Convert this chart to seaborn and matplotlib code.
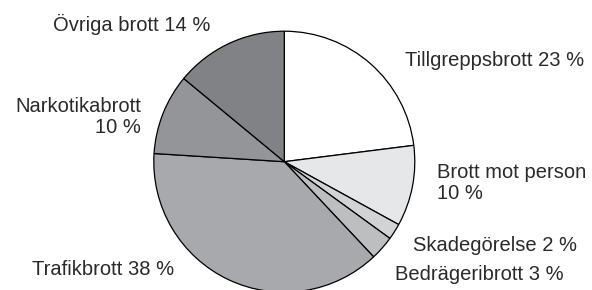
import matplotlib.pyplot as plt
import seaborn as sns

# Data
categories = ["Tillgreppsbrott", "Brott mot person", "Skadegörelse",
              "Bedrägeribrott", "Trafikbrott", "Narkotikabrott", "Övriga brott"]
shares = [23, 10, 2, 3, 38, 10, 14]
label_texts = ["Tillgreppsbrott 23 %", "Brott mot person\n10 %", "Skadegörelse 2 %",
               "Bedrägeribrott 3 %", "Trafikbrott 38 %", "Narkotikabrott\n10 %",
               "Övriga brott 14 %"]

colors = ["#ffffff", "#e6e7e8", "#d1d3d4", "#bcbec0", "#a7a9ac", "#939598", "#808285"]

# Label layout in pixel units (x, baseline y of last line, relative to pie centre)
label_pos = [(121, 95.7), (153, -37.6), (128.5, -89.3), (111, -118.3),
             (-110.5, -113.3), (-143, 28.7), (-73.5, 130.7)]
label_ha = ["left", "left", "left", "left", "right", "right", "right"]

sns.set_style("white")
plt.rcParams["font.family"] = ["Liberation Sans", "DejaVu Sans"]

fig = plt.figure(figsize=(5.92, 2.90), dpi=100)
ax = fig.add_axes([0, 0, 1, 1])

cx, cy = 284.3, 128.3
radius = 130.5
ax.pie(shares, colors=colors, startangle=90, counterclock=False, radius=radius,
       wedgeprops=dict(edgecolor="black", linewidth=0.9))

ax.set_xlim(-cx, 592 - cx)
ax.set_ylim(-cy, 290 - cy)
ax.set_aspect("equal")
ax.axis("off")

for text, (x, y), ha in zip(label_texts, label_pos, label_ha):
    ax.text(x, y, text, ha=ha, va="baseline", fontsize=14.5, color="#2a2a2a",
            multialignment=ha, linespacing=1.15)

fig.savefig("out.png", dpi=100)
